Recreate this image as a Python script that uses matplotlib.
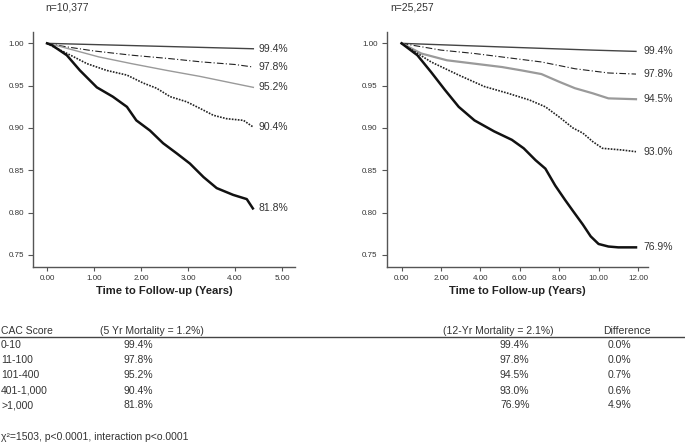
import matplotlib
matplotlib.use('Agg')
from matplotlib import pyplot as plt
from matplotlib.lines import Line2D

plt.rcParams['font.family'] = ['Liberation Sans', 'DejaVu Sans']

# survival curves, 5-year cohort (n=10,377)
t5_a = [0, 2.19, 4.39]
s5_a = [1.0, 0.9968, 0.9936]
t5_b = [0, 0.4, 1.0, 1.8, 2.6, 3.3, 4.0, 4.39]
s5_b = [1.0, 0.996, 0.991, 0.986, 0.982, 0.978, 0.975, 0.972]
t5_c = [0, 0.3, 1.1, 1.8, 2.55, 3.25, 3.95, 4.39]
s5_c = [1.0, 0.996, 0.984, 0.976, 0.968, 0.961, 0.953, 0.948]
t5_d = [0, 0.1, 0.5, 0.85, 1.27, 1.7, 2.05, 2.33, 2.62, 2.97, 3.26, 3.54, 3.82, 4.18, 4.39]
s5_d = [1.0, 0.997, 0.986, 0.976, 0.968, 0.9625, 0.953, 0.947, 0.937, 0.931, 0.923, 0.915, 0.911, 0.909, 0.901]
t5_e = [0, 0.1, 0.42, 0.7, 1.06, 1.4, 1.7, 1.9, 2.19, 2.47, 2.76, 3.04, 3.33, 3.61, 3.96, 4.25, 4.38]
s5_e = [1.0, 0.998, 0.986, 0.968, 0.948, 0.937, 0.925, 0.909, 0.897, 0.882, 0.870, 0.858, 0.842, 0.829, 0.821, 0.816, 0.805]

# 12-year cohort (n=25,257)
t12_a = [0, 5.0, 9.7, 11.9]
s12_a = [1.0, 0.9958, 0.992, 0.9905]
t12_b = [0, 2.0, 3.7, 5.4, 7.1, 8.8, 10.5, 11.9]
s12_b = [1.0, 0.992, 0.988, 0.983, 0.978, 0.970, 0.965, 0.9637]
t12_c = [0, 1.0, 2.3, 3.7, 5.1, 6.1, 7.1, 8.0, 8.8, 9.7, 10.5, 11.9]
s12_c = [1.0, 0.988, 0.980, 0.976, 0.972, 0.968, 0.9637, 0.9546, 0.947, 0.941, 0.935, 0.934]
t12_d = [0, 1.5, 2.9, 4.2, 5.4, 6.5, 7.3, 8.0, 8.7, 9.2, 9.7, 10.2, 11.2, 11.9]
s12_d = [1.0, 0.978, 0.9625, 0.949, 0.941, 0.933, 0.925, 0.913, 0.900, 0.894, 0.884, 0.876, 0.874, 0.872]
t12_e = [0, 0.8, 1.5, 2.2, 2.9, 3.7, 4.7, 5.6, 6.2, 6.8, 7.3, 7.8, 8.3, 8.7, 9.2, 9.6, 10.0, 10.5, 11.0, 11.9]
s12_e = [1.0, 0.986, 0.966, 0.945, 0.925, 0.909, 0.896, 0.886, 0.876, 0.862, 0.852, 0.832, 0.815, 0.802, 0.786, 0.772, 0.763, 0.760, 0.759, 0.759]

cac_groups = ['0-10', '11-100', '101-400', '401-1,000', '>1,000']
surv_5yr = ['99.4%', '97.8%', '95.2%', '90.4%', '81.8%']
surv_12yr = ['99.4%', '97.8%', '94.5%', '93.0%', '76.9%']
diff = ['0.0%', '0.0%', '0.7%', '0.6%', '4.9%']

TXT = '#333333'
AX = '#555555'

fig = plt.figure(figsize=(6.85, 4.45), dpi=100)
ax1 = fig.add_axes([0.0482, 0.40, 0.3825, 0.5281])
ax2 = fig.add_axes([0.5645, 0.40, 0.3815, 0.5281])


def style_axis(ax, xmin, xmax, xticks):
    ax.set_ylim(0.7358, 1.0134)
    ax.set_xlim(xmin, xmax)
    ax.set_yticks([0.75, 0.80, 0.85, 0.90, 0.95, 1.00])
    ax.set_yticklabels(['%.2f' % v for v in [0.75, 0.80, 0.85, 0.90, 0.95, 1.00]])
    ax.set_xticks(xticks)
    ax.set_xticklabels(['%.2f' % v for v in xticks])
    for s in ['top', 'right']:
        ax.spines[s].set_visible(False)
    for s in ['left', 'bottom']:
        ax.spines[s].set_color(AX)
        ax.spines[s].set_linewidth(1.0)
    ax.tick_params(axis='y', length=3.5, width=0.8, color=AX, labelsize=5.8,
                   labelcolor=TXT, pad=3)
    ax.tick_params(axis='x', length=3, width=0.8, color=AX, labelsize=5.8,
                   labelcolor=TXT, pad=2.5)
    ax.set_xlabel('Time to Follow-up (Years)', fontsize=8.1, fontweight='bold',
                  color='#222222', labelpad=3)


def draw_curves(ax, curves, labx, gray_lw):
    styles = [
        dict(color='#444444', lw=1.0, ls='-'),
        dict(color='#222222', lw=0.8, ls=(0, (6, 2, 1, 2))),
        dict(color='#9a9a9a', lw=gray_lw, ls='-'),
        dict(color='#222222', lw=1.2, ls=(0, (1, 0.8))),
        dict(color='#111111', lw=1.8, ls='-'),
    ]
    for (t, s, lab), st in zip(curves, styles):
        ax.plot(t, s, color=st['color'], lw=st['lw'], linestyle=st['ls'])
        ax.text(labx, s[-1], lab, fontsize=7.5, color=TXT, va='center',
                ha='left', clip_on=False)


style_axis(ax1, -0.298, 5.277, [0, 1, 2, 3, 4, 5])
style_axis(ax2, -0.756, 12.51, [0, 2, 4, 6, 8, 10, 12])

draw_curves(ax1, [(t5_a, s5_a, surv_5yr[0]), (t5_b, s5_b, surv_5yr[1]),
                  (t5_c, s5_c, surv_5yr[2]), (t5_d, s5_d, surv_5yr[3]),
                  (t5_e, s5_e, surv_5yr[4])], 4.49, 1.0)
draw_curves(ax2, [(t12_a, s12_a, surv_12yr[0]), (t12_b, s12_b, surv_12yr[1]),
                  (t12_c, s12_c, surv_12yr[2]), (t12_d, s12_d, surv_12yr[3]),
                  (t12_e, s12_e, surv_12yr[4])], 12.3, 1.6)

fig.text(45 / 685, 1 - 7 / 445, 'n=10,377', fontsize=7.5, color=TXT, va='center')
fig.text(390 / 685, 1 - 7 / 445, 'n=25,257', fontsize=7.5, color=TXT, va='center')

# table under the plots
def fy(px):
    return 1 - px / 445.0

fs = 7.5
hy = fy(330.5)
fig.text(0.0015, hy, 'CAC Score', fontsize=fs, color=TXT, va='center')
fig.text(100 / 685, hy, '(5 Yr Mortality = 1.2%)', fontsize=fs, color=TXT, va='center')
fig.text(443 / 685, hy, '(12-Yr Mortality = 2.1%)', fontsize=fs, color=TXT, va='center')
fig.text(603 / 685, hy, 'Difference', fontsize=fs, color=TXT, va='center')
fig.add_artist(Line2D([0, 1], [fy(336.5), fy(336.5)], color='#444444', lw=1.0,
                      transform=fig.transFigure))

row_y = [345, 360, 375, 390.5, 405.5]
for i, g in enumerate(cac_groups):
    y = fy(row_y[i])
    fig.text(0.0015, y, g, fontsize=fs, color=TXT, va='center')
    fig.text(123.5 / 685, y, surv_5yr[i], fontsize=fs, color=TXT, va='center')
    fig.text(500 / 685, y, surv_12yr[i], fontsize=fs, color=TXT, va='center')
    fig.text(607.5 / 685, y, diff[i], fontsize=fs, color=TXT, va='center')

fig.text(0.0015, fy(436.5), 'χ²=1503, p<0.0001, interaction p<o.0001',
         fontsize=fs, color=TXT, va='center')

fig.savefig('out.png', dpi=100)
